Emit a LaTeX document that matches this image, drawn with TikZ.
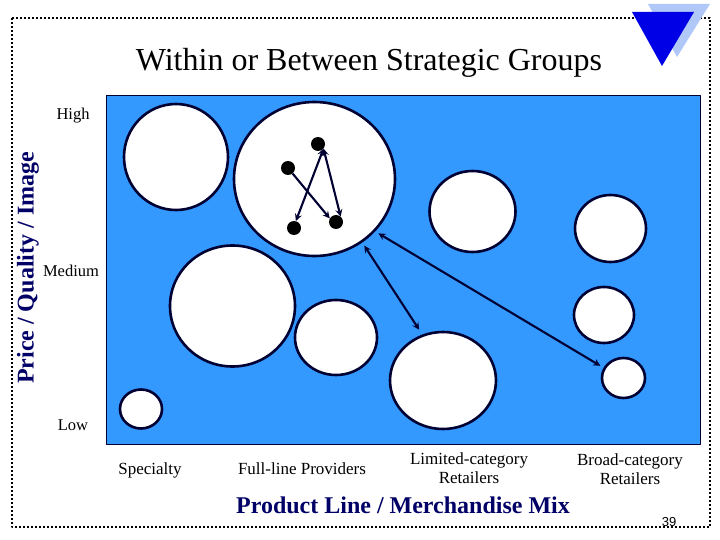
\documentclass[tikz,border=0pt]{standalone}
\usepackage{fontspec}
\setmainfont{Liberation Serif}
\setsansfont{Liberation Sans}
\usetikzlibrary{shapes.geometric}
\definecolor{panelblue}{HTML}{3399FF}
\definecolor{navy}{HTML}{000033}
\definecolor{axisnavy}{HTML}{000066}
\definecolor{paletri}{HTML}{B0C8F8}
\definecolor{deeptri}{HTML}{0000E6}
\tikzset{
    blob/.style 2 args={ellipse, draw=navy, fill=white, line width=2.6pt, inner sep=0pt, outer sep=0pt, minimum width=#1, minimum height=#2},
    dot/.style={circle, fill=black, inner sep=0pt, minimum size=14pt},
    link/.style={line width=2.1pt, navy},
    level/.style={font=\fontsize{16.5}{16.5}\selectfont},
    group/.style={font=\fontsize{17}{19}\selectfont, align=center},
    axislabel/.style={font=\fontsize{24}{24}\selectfont\bfseries, text=axisnavy}
}
\begin{document}
\begin{tikzpicture}[x=1pt, y=-1pt, >=stealth, line join=round]
    \useasboundingbox (0,0) rectangle (720,540);
    \draw[line width=2pt, dotted] (12,18) rectangle (710,527);
    \fill[paletri] (648,4) -- (710,4) -- (677,57) -- cycle;
    \fill[deeptri] (632,12) -- (694,12) -- (662,66) -- cycle;
    \node[font=\fontsize{32}{32}\selectfont] (title) at (369,63) {Within or Between Strategic Groups};
    \draw[navy, fill=panelblue, line width=1pt] (106,96) rectangle (700,444);
    \node[blob={104pt}{106pt}] (specA) at (176,157) {};
    \node[blob={161pt}{154pt}] (fullA) at (314.5,179) {};
    \node[blob={86pt}{81pt}] (limA) at (472.5,211.5) {};
    \node[blob={71pt}{67pt}] (broadA) at (610.5,228.5) {};
    \node[blob={125pt}{121pt}] (specB) at (232.5,306) {};
    \node[blob={82pt}{75pt}] (fullB) at (336,337.5) {};
    \node[blob={106pt}{97pt}] (limB) at (443,380.5) {};
    \node[blob={60pt}{56pt}] (broadB) at (604,315) {};
    \node[blob={43pt}{40pt}] (broadC) at (623.5,378) {};
    \node[blob={42pt}{39pt}] (specC) at (141,409) {};
    \node[dot] (dtop) at (318,144) {};
    \node[dot] (dleft) at (288,168) {};
    \node[dot] (dlow) at (294,228) {};
    \node[dot] (dright) at (336,222) {};
    \draw[->, link] (dleft) -- (dright.150);
    \draw[<->, link] (dtop.-40) -- (dlow.75);
    \draw[<->, link] (dtop.-40) -- (dright.50);
    \draw[<->, link, shorten <=5pt, shorten >=5pt] (fullA.-41) -- (broadC.153);
    \draw[<->, link, shorten <=5pt, shorten >=7pt] (fullA.-53) -- (limB.114);
    \node[level] (high) at (73,116) {High};
    \node[level] (medium) at (71,271) {Medium};
    \node[level] (low) at (73,425) {Low};
    \node[axislabel, rotate=90] (yaxis) at (28,268) {Price / Quality / Image};
    \node[group] (specialty) at (150,470) {Specialty};
    \node[group] (fullline) at (302,469) {Full-line Providers};
    \node[group] (limited) at (469,468.5) {Limited-category\\Retailers};
    \node[group] (broad) at (630,469.5) {Broad-category\\Retailers};
    \node[axislabel] (xaxis) at (403,505) {Product Line / Merchandise Mix};
    \node[font=\sffamily\fontsize{13}{13}\selectfont] (page) at (669,522) {39};
\end{tikzpicture}
\end{document}
